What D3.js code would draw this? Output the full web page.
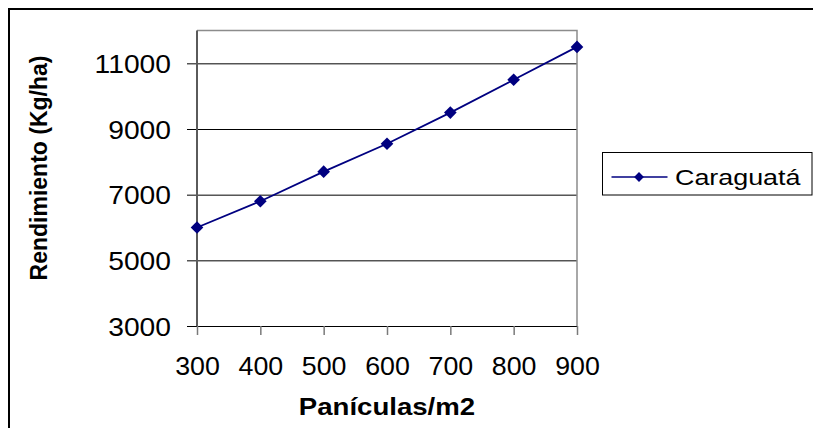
<!DOCTYPE html>
<html>
<head>
<meta charset="utf-8">
<script src="https://cdn.jsdelivr.net/npm/d3@7"></script>
<style>
  html, body { margin: 0; padding: 0; background: #fff; }
  svg { display: block; font-family: "Liberation Sans", Arial, sans-serif; }
</style>
</head>
<body>
<svg id="chart" width="813" height="428"></svg>
<script>
// Panicle density vs. grain yield
const categories = ["300", "400", "500", "600", "700", "800", "900"];
const yieldValues = [6000, 6800, 7700, 8550, 9500, 10500, 11500];
const yTicks = [3000, 5000, 7000, 9000, 11000];
const seriesName = "Caraguatá";
const xTitle = "Panículas/m2";
const yTitle = "Rendimiento (Kg/ha)";

const svg = d3.select("#chart");
const navy = "#000080";

// chart frame (extends beyond the right and bottom edges)
svg.append("rect")
  .attr("x", 9).attr("y", 9)
  .attr("width", 840).attr("height", 440)
  .attr("fill", "none").attr("stroke", "#000").attr("stroke-width", 2);

const plot = { left: 197, right: 577, top: 30.5, bottom: 326 };

const x = d3.scalePoint().domain(categories).range([plot.left, plot.right]).padding(0);
const y = d3.scaleLinear().domain([3000, 12000]).range([plot.bottom, plot.top]);

// gridlines with outward tick stubs on the left
const yStretch = 1.13;
const yAxis = d3.axisLeft(y).tickValues(yTicks)
  .tickSize(-(plot.right - plot.left)).tickSizeOuter(0)
  .tickFormat(d3.format("d"));
const gy = svg.append("g").attr("transform", `translate(${plot.left},0)`).call(yAxis);
gy.select(".domain").remove();
gy.selectAll(".tick line").attr("stroke", "#000").attr("stroke-width", 1)
  .attr("x1", -10).attr("x2", plot.right - plot.left);
gy.selectAll(".tick text")
  .attr("font-size", 25).attr("fill", "#000")
  .attr("font-family", "Liberation Sans, Arial, sans-serif")
  .attr("x", -26 / yStretch)
  .attr("transform", `scale(${yStretch},1)`)
  .attr("dy", "0.36em");

// plot border: top and right in gray
svg.append("path")
  .attr("d", `M${plot.left},${plot.top}H${plot.right}V${plot.bottom}`)
  .attr("fill", "none").attr("stroke", "#8c8c8c").attr("stroke-width", 1.5);

// left axis line
svg.append("line")
  .attr("x1", plot.left).attr("x2", plot.left)
  .attr("y1", plot.top).attr("y2", plot.bottom)
  .attr("stroke", "#5a5a5a").attr("stroke-width", 2);

// x axis with tick marks below
const xAxis = d3.axisBottom(x).tickSize(9).tickSizeOuter(0).tickPadding(22);
const gx = svg.append("g").attr("transform", `translate(0,${plot.bottom})`).call(xAxis);
gx.select(".domain").attr("stroke", "#000").attr("stroke-width", 1);
gx.selectAll(".tick line").attr("stroke", "#7a7a7a").attr("stroke-width", 1.5);
gx.selectAll(".tick text")
  .attr("font-size", 25.5).attr("fill", "#000")
  .attr("font-family", "Liberation Sans, Arial, sans-serif")
  .attr("transform", "scale(1.05,1)");

// series line
const data = categories.map((c, i) => ({ c, v: yieldValues[i] }));
svg.append("path")
  .datum(data)
  .attr("d", d3.line().x(d => x(d.c)).y(d => y(d.v)))
  .attr("fill", "none").attr("stroke", navy).attr("stroke-width", 1.8);

svg.append("g").selectAll("path")
  .data(data).join("path")
  .attr("d", d3.symbol().type(d3.symbolSquare).size(80)())
  .attr("transform", d => `translate(${x(d.c)},${y(d.v)}) rotate(45)`)
  .attr("fill", navy);

// axis titles
svg.append("text")
  .attr("transform", "translate(387,415) scale(1.2,1)")
  .attr("text-anchor", "middle")
  .attr("font-size", 23).attr("font-weight", "bold")
  .text(xTitle);

svg.append("text")
  .attr("transform", "translate(46.5,168) rotate(-90)")
  .attr("text-anchor", "middle")
  .attr("font-size", 23).attr("font-weight", "bold")
  .text(yTitle);

// legend
const lg = svg.append("g");
lg.append("rect")
  .attr("x", 602.5).attr("y", 152.5).attr("width", 209.5).attr("height", 42.5)
  .attr("fill", "#fff").attr("stroke", "#000").attr("stroke-width", 1);
lg.append("line")
  .attr("x1", 611.5).attr("x2", 667.5).attr("y1", 177).attr("y2", 177)
  .attr("stroke", navy).attr("stroke-width", 1.5);
lg.append("path")
  .attr("d", d3.symbol().type(d3.symbolSquare).size(48)())
  .attr("transform", "translate(639,177) rotate(45)")
  .attr("fill", navy);
lg.append("text")
  .attr("transform", "translate(675,184.5) scale(1.25,1)")
  .attr("font-size", 21.5)
  .text(seriesName);
</script>
</body>
</html>
